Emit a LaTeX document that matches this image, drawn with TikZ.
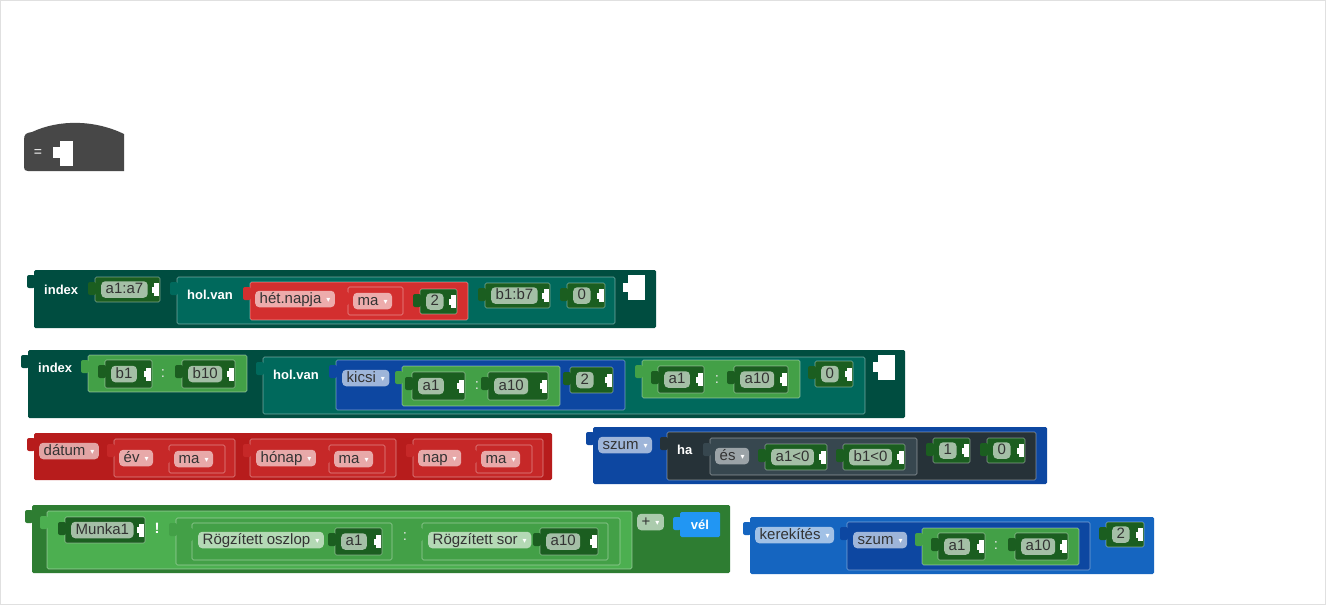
\documentclass[tikz,border=0pt]{standalone}
\usepackage{fontspec}
\setmainfont{Liberation Sans}
\newfontfamily\dejavu{DejaVu Sans}

% block colours
\definecolor{hatc}{HTML}{474747}
\definecolor{tealA}{HTML}{004D40}
\definecolor{tealB}{HTML}{00695C}
\definecolor{gval}{HTML}{1B5E20}
\definecolor{grng}{HTML}{43A047}
\definecolor{gout}{HTML}{2E7D32}
\definecolor{glite}{HTML}{4CAF50}
\definecolor{redA}{HTML}{B71C1C}
\definecolor{redB}{HTML}{C62828}
\definecolor{redC}{HTML}{D32F2F}
\definecolor{blueA}{HTML}{0D47A1}
\definecolor{blueB}{HTML}{1565C0}
\definecolor{blueC}{HTML}{2196F3}
\definecolor{slateA}{HTML}{263238}
\definecolor{slateB}{HTML}{37474F}

\newcommand{\pillfont}{\fontsize{15}{17}\selectfont}
\newcommand{\ddarr}{\hspace{5pt}\raisebox{0.5pt}{\dejavu\fontsize{8}{8}\selectfont\textcolor{white}{▾}}}

\tikzset{
  blk/.style={rectangle, anchor=north west, inner sep=0pt, outer sep=0pt,
    rounded corners=1.5pt},
  nested/.style={draw=white, draw opacity=0.45, line width=0.6pt},
  pill/.style={rectangle, rounded corners=4pt, anchor=west, inner xsep=4.5pt,
    inner ysep=1.5pt, text height=11pt, text depth=2.5pt, text=black!80,
    font=\pillfont},
  lbl/.style={anchor=west, inner sep=0pt, text=white, text height=9.5pt,
    text depth=0pt, font=\bfseries\fontsize{13}{15}\selectfont},
  colon/.style={inner sep=0pt, text=white!90!black, font=\pillfont},
}

% block with its left tab: [style] name, colour, x, y, width, height
\newcommand{\blk}[7][]{%
  \node[blk, fill=#3, minimum width=#6pt, minimum height=#7pt, #1] (#2) at (#4,#5) {};
  \fill[#3, rounded corners=2pt] ([xshift=-7pt,yshift=-5pt]#2.north west) rectangle ++(8pt,-13pt);
}
% white notch at the right end of a value block
\newcommand{\ntch}[1]{%
  \fill[white] ([xshift=-6pt,yshift=6.5pt]#1.east) rectangle ++(5pt,-13pt);
  \fill[white] ([xshift=-8pt,yshift=3pt]#1.east) rectangle ++(3pt,-6pt);
}
% dark green value block: name, x, y, width, height, text
\newcommand{\val}[6]{%
  \blk[nested]{#1}{gval}{#2}{#3}{#4}{#5}
  \node[pill, fill=gval!40!white] (#1t) at ([xshift=6pt]#1.west) {#6};
  \ntch{#1}
}

\begin{document}
\begin{tikzpicture}[x=1pt, y=-1pt]
\useasboundingbox (0,0) rectangle (1326,605);
\fill[white] (0,0) rectangle (1326,605);
\draw[black!12] (0.5,0.5) rectangle (1325.5,604.5);

% hat block
\fill[hatc] (24,140) .. controls (24,134) and (26,133) .. (32,132)
  .. controls (60,119) and (95,120) .. (124,134) -- (124,171) -- (28,171)
  .. controls (25,171) and (24,170) .. (24,167) -- cycle;
\node[inner sep=0pt, text=white, font=\fontsize{14}{16}\selectfont] (eqs) at (38,153) {=};
\fill[white] (60,141) rectangle (73,166);
\fill[white] (53,147) rectangle (61,158);

% index 1
\blk{idxA}{tealA}{34}{270}{622}{58}
\node[lbl] (idxAl) at (44,290) {index};
\val{aSeven}{95}{277}{65}{25}{a1:a7}
\blk[nested]{holA}{tealB}{177}{277}{438}{47}
\node[lbl] (holAl) at (187,295) {hol.van};
\blk[nested]{hetA}{redC}{250}{282}{218}{38}
\node[pill, fill=redC!40!white] (pHet) at (255,299) {hét.napja\ddarr};
\blk[nested]{maA}{redC}{348}{287}{55}{28}
\node[pill, fill=redC!40!white] (pMaA) at ([xshift=5pt]maA.west) {ma\ddarr};
\val{twoA}{420}{289}{37}{25}{2}
\val{bSeven}{485}{283}{65}{25}{b1:b7}
\val{zeroA}{567}{283}{38}{25}{0}
\fill[white] (628,275) rectangle (645,300);
\fill[white] (623,283) rectangle (629,292);

% index 2
\blk{idxB}{tealA}{28}{350}{877}{68}
\node[lbl] (idxBl) at (38,368) {index};
\blk[nested]{rngB}{grng}{88}{355}{159}{37}
\val{bOne}{105}{360}{47}{28}{b1}
\node[colon] (cB) at (163,374) {:};
\val{bTen}{182}{360}{53}{28}{b10}
\blk[nested]{holB}{tealB}{263}{357}{602}{57}
\node[lbl] (holBl) at (273,375) {hol.van};
\blk[nested]{kicsiB}{blueA}{336}{360}{289}{50}
\node[pill, fill=blueA!40!white] (pKicsi) at (342,378) {kicsi\ddarr};
\blk[nested]{rngC}{grng}{402}{366}{158}{40}
\val{aOneB}{412}{372}{53}{28}{a1}
\node[colon] (cC) at (477,386) {:};
\val{aTenB}{488}{372}{60}{28}{a10}
\val{twoB}{570}{367}{43}{26}{2}
\blk[nested]{rngD}{grng}{642}{360}{158}{38}
\val{aOneC}{658}{366}{46}{27}{a1}
\node[colon] (cD) at (717,380) {:};
\val{aTenC}{734}{366}{54}{27}{a10}
\val{zeroB}{815}{361}{38}{26}{0}
\fill[white] (878,355) rectangle (895,380);
\fill[white] (873,362) rectangle (879,372);

% datum
\blk{datum}{redA}{34}{433}{518}{47}
\node[pill, fill=redA!40!white] (pDatum) at (39,451) {dátum\ddarr};
\blk[nested]{evBox}{redB}{114}{439}{121}{38}
\node[pill, fill=redB!40!white] (pEv) at (119,458) {év\ddarr};
\blk[nested]{evMa}{redB}{169}{445}{56}{28}
\node[pill, fill=redB!40!white] (pEvMa) at ([xshift=5pt]evMa.west) {ma\ddarr};
\blk[nested]{honBox}{redB}{250}{439}{146}{38}
\node[pill, fill=redB!40!white] (pHon) at (256,458) {hónap\ddarr};
\blk[nested]{honMa}{redB}{329}{445}{56}{28}
\node[pill, fill=redB!40!white] (pHonMa) at ([xshift=5pt]honMa.west) {ma\ddarr};
\blk[nested]{napBox}{redB}{413}{439}{130}{38}
\node[pill, fill=redB!40!white] (pNap) at (418,458) {nap\ddarr};
\blk[nested]{napMa}{redB}{476}{445}{56}{28}
\node[pill, fill=redB!40!white] (pNapMa) at ([xshift=5pt]napMa.west) {ma\ddarr};

% szum ha
\blk{szum}{blueA}{593}{427}{454}{57}
\node[pill, fill=blueA!40!white] (pSzum) at (598,445) {szum\ddarr};
\blk[nested]{haBlk}{slateA}{667}{432}{369}{48}
\node[lbl] (hal) at (677,450) {ha};
\blk[nested]{esBlk}{slateB}{710}{438}{207}{37}
\node[pill, fill=slateB!50!white] (pEs) at (715,456) {és\ddarr};
\val{aNeg}{765}{444}{62}{26}{a1<0}
\val{bNeg}{843}{444}{62}{26}{b1<0}
\val{oneD}{933}{438}{37}{25}{1}
\val{zeroD}{987}{438}{38}{25}{0}

% Munka1 ! range
\blk{munka}{gout}{32}{505}{698}{68}
\blk[nested]{munkaIn}{glite}{47}{511}{585}{58}
\val{mOne}{65}{517}{80}{26}{Munka1}
\node[inner sep=0pt, text=white, font=\bfseries\pillfont] (bang) at (157,528) {!};
\blk[nested]{rngE}{grng}{176}{518}{444}{47}
\blk[nested]{oszBox}{grng}{192}{523}{200}{37}
\node[pill, fill=grng!40!white] (pOsz) at (198,540) {Rögzített oszlop\ddarr};
\val{aOneE}{335}{528}{47}{27}{a1}
\node[colon] (cE) at (405,537) {:};
\blk[nested]{sorBox}{grng}{422}{523}{186}{37}
\node[pill, fill=grng!40!white] (pSor) at (428,540) {Rögzített sor\ddarr};
\val{aTenE}{540}{528}{58}{27}{a10}
\node[pill, fill=gout!40!white] (pPlus) at (637,522) {+\ddarr};
\blk{vel}{blueC}{680}{512}{40}{25}
\node[lbl, anchor=center] (vell) at (vel.center) {vél};

% kerekites
\blk{kerek}{blueB}{750}{517}{404}{57}
\node[pill, fill=blueB!40!white] (pKerek) at (755,535) {kerekítés\ddarr};
\blk[nested]{szumF}{blueA}{847}{522}{243}{48}
\node[pill, fill=blueA!40!white] (pSzumF) at (853,540) {szum\ddarr};
\blk[nested]{rngF}{grng}{922}{528}{157}{37}
\val{aOneF}{938}{533}{47}{27}{a1}
\node[colon] (cF) at (996,546) {:};
\val{aTenF}{1015}{533}{53}{27}{a10}
\val{twoF}{1106}{522}{38}{25}{2}
\end{tikzpicture}
\end{document}
